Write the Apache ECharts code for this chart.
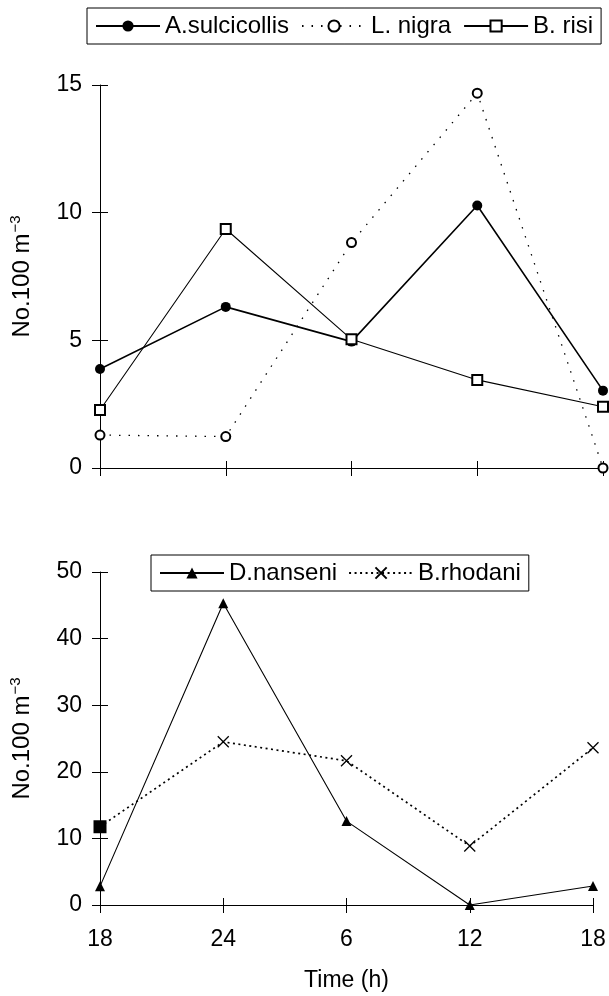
<!DOCTYPE html>
<html>
<head>
<meta charset="utf-8">
<script src="https://cdn.jsdelivr.net/npm/echarts@6/dist/echarts.min.js"></script>
<style>
  html, body { margin: 0; padding: 0; background: #fff; }
  #chart { width: 609px; height: 996px; }
</style>
</head>
<body>
<div id="chart"></div>
<script>
// Sampling times (h) along the diel series
const times = ['18', '24', '6', '12', '18'];

// Upper panel: densities (No. 100 m^-3)
const aSulcicollis = [3.88, 6.31, 4.95, 10.28, 3.03];
const lNigra = [1.29, 1.23, 8.83, 14.68, 0];
const bRisi = [2.27, 9.36, 5.04, 3.45, 2.40];

// Lower panel: densities (No. 100 m^-3)
const dNanseni = [2.8, 45.3, 12.6, 0, 2.85];
const bRhodani = [11.75, 24.5, 21.65, 8.86, 23.6];

const FONT = 'Liberation Sans, Arial, sans-serif';
const BLACK = '#000';
const crossMark = 'path://M0,0L10,10M10,0L0,10';

const yName = '{a|No.100 m}{b|−3}';
const yNameRich = {
  a: { fontSize: 24, fontFamily: FONT, color: BLACK },
  b: { fontSize: 15, fontFamily: FONT, color: BLACK, padding: [0, 0, 13, 1] }
};

function mainX(grid, showLabels) {
  return {
    type: 'category', gridIndex: grid, position: 'bottom', data: times, boundaryGap: false,
    axisLine: { show: true, lineStyle: { color: BLACK, width: 1 } },
    axisTick: { show: true, inside: false, length: 8, lineStyle: { color: BLACK } },
    axisLabel: { show: showLabels, color: BLACK, fontSize: 23, fontFamily: FONT, margin: 23 },
    splitLine: { show: false },
    name: showLabels ? 'Time (h)' : '',
    nameLocation: 'middle', nameGap: 64,
    nameTextStyle: { color: BLACK, fontSize: 23, fontFamily: FONT }
  };
}
function innerX(grid) {
  return {
    type: 'category', gridIndex: grid, position: 'bottom', data: times, boundaryGap: false,
    axisLine: { show: false },
    axisTick: { show: true, inside: true, length: 7, lineStyle: { color: BLACK } },
    axisLabel: { show: false }, splitLine: { show: false }
  };
}
function mainY(grid, max, step) {
  return {
    type: 'value', gridIndex: grid, position: 'left', min: 0, max: max, interval: step,
    axisLine: { show: true, lineStyle: { color: BLACK, width: 1 } },
    axisTick: { show: true, inside: false, length: 8, lineStyle: { color: BLACK } },
    axisLabel: { color: BLACK, fontSize: 23, fontFamily: FONT, margin: 18 },
    splitLine: { show: false },
    name: yName, nameLocation: 'middle', nameGap: 64, nameRotate: 90,
    nameTextStyle: { rich: yNameRich }
  };
}
function innerY(grid, max, step) {
  return {
    type: 'value', gridIndex: grid, position: 'left', offset: 0, min: 0, max: max, interval: step,
    axisLine: { show: false, onZero: false },
    axisTick: { show: true, inside: true, length: 8, lineStyle: { color: BLACK } },
    axisLabel: { show: false }, splitLine: { show: false }
  };
}

const legendBase = {
  orient: 'horizontal',
  backgroundColor: '#fff',
  borderColor: BLACK, borderWidth: 1, borderRadius: 0,
  padding: [6, 8, 6, 8],
  itemWidth: 64, itemHeight: 14, itemGap: 12,
  textStyle: { color: BLACK, fontSize: 24, fontFamily: FONT },
  selectedMode: false
};

const chart = echarts.init(document.getElementById('chart'), null, { renderer: 'canvas' });

chart.setOption({
  backgroundColor: '#fff',
  animation: false,
  legend: [
    Object.assign({}, legendBase, { left: 87, top: 8, data: ['A.sulcicollis', 'L. nigra', 'B. risi'] }),
    Object.assign({}, legendBase, { left: 151, top: 555, z: 10, itemGap: 11, data: ['D.nanseni', 'B.rhodani'] })
  ],
  grid: [
    { left: 97, right: 6, top: 85, height: 383, containLabel: false },
    { left: 97, right: 16, top: 572, height: 333, containLabel: false }
  ],
  xAxis: [mainX(0, false), innerX(0), mainX(1, true), innerX(1)],
  yAxis: [mainY(0, 15, 5), innerY(0, 15, 5), mainY(1, 50, 10), innerY(1, 50, 10)],
  series: [
    {
      name: 'A.sulcicollis', type: 'line', xAxisIndex: 0, yAxisIndex: 0,
      data: aSulcicollis, symbol: 'circle', symbolSize: 10,
      itemStyle: { color: BLACK },
      lineStyle: { color: BLACK, width: 1.6, type: 'solid' }
    },
    {
      name: 'L. nigra', type: 'line', xAxisIndex: 0, yAxisIndex: 0,
      data: lNigra, symbol: 'emptyCircle', symbolSize: 9,
      itemStyle: { color: BLACK, borderColor: BLACK, borderWidth: 1 },
      lineStyle: { color: BLACK, width: 1.3, type: [1.5, 8] }
    },
    {
      name: 'B. risi', type: 'line', xAxisIndex: 0, yAxisIndex: 0,
      data: bRisi, symbol: 'emptyRect', symbolSize: 10,
      itemStyle: { color: BLACK, borderColor: BLACK, borderWidth: 1 },
      lineStyle: { color: BLACK, width: 1.1, type: 'solid' }
    },
    {
      name: 'D.nanseni', type: 'line', xAxisIndex: 2, yAxisIndex: 2,
      data: dNanseni, symbol: 'triangle', symbolSize: 10,
      itemStyle: { color: BLACK },
      lineStyle: { color: BLACK, width: 1.1, type: 'solid' }
    },
    {
      name: 'B.rhodani', type: 'line', xAxisIndex: 2, yAxisIndex: 2,
      data: bRhodani.map((v, i) => i === 0
        ? { value: v, symbol: 'rect', symbolSize: 13, itemStyle: { color: BLACK, borderWidth: 0 } }
        : v),
      symbol: crossMark, symbolSize: 11,
      itemStyle: { color: 'rgba(0,0,0,0)', borderColor: BLACK, borderWidth: 1.3 },
      lineStyle: { color: BLACK, width: 1.7, type: [2, 3.5] }
    }
  ]
});
</script>
</body>
</html>
